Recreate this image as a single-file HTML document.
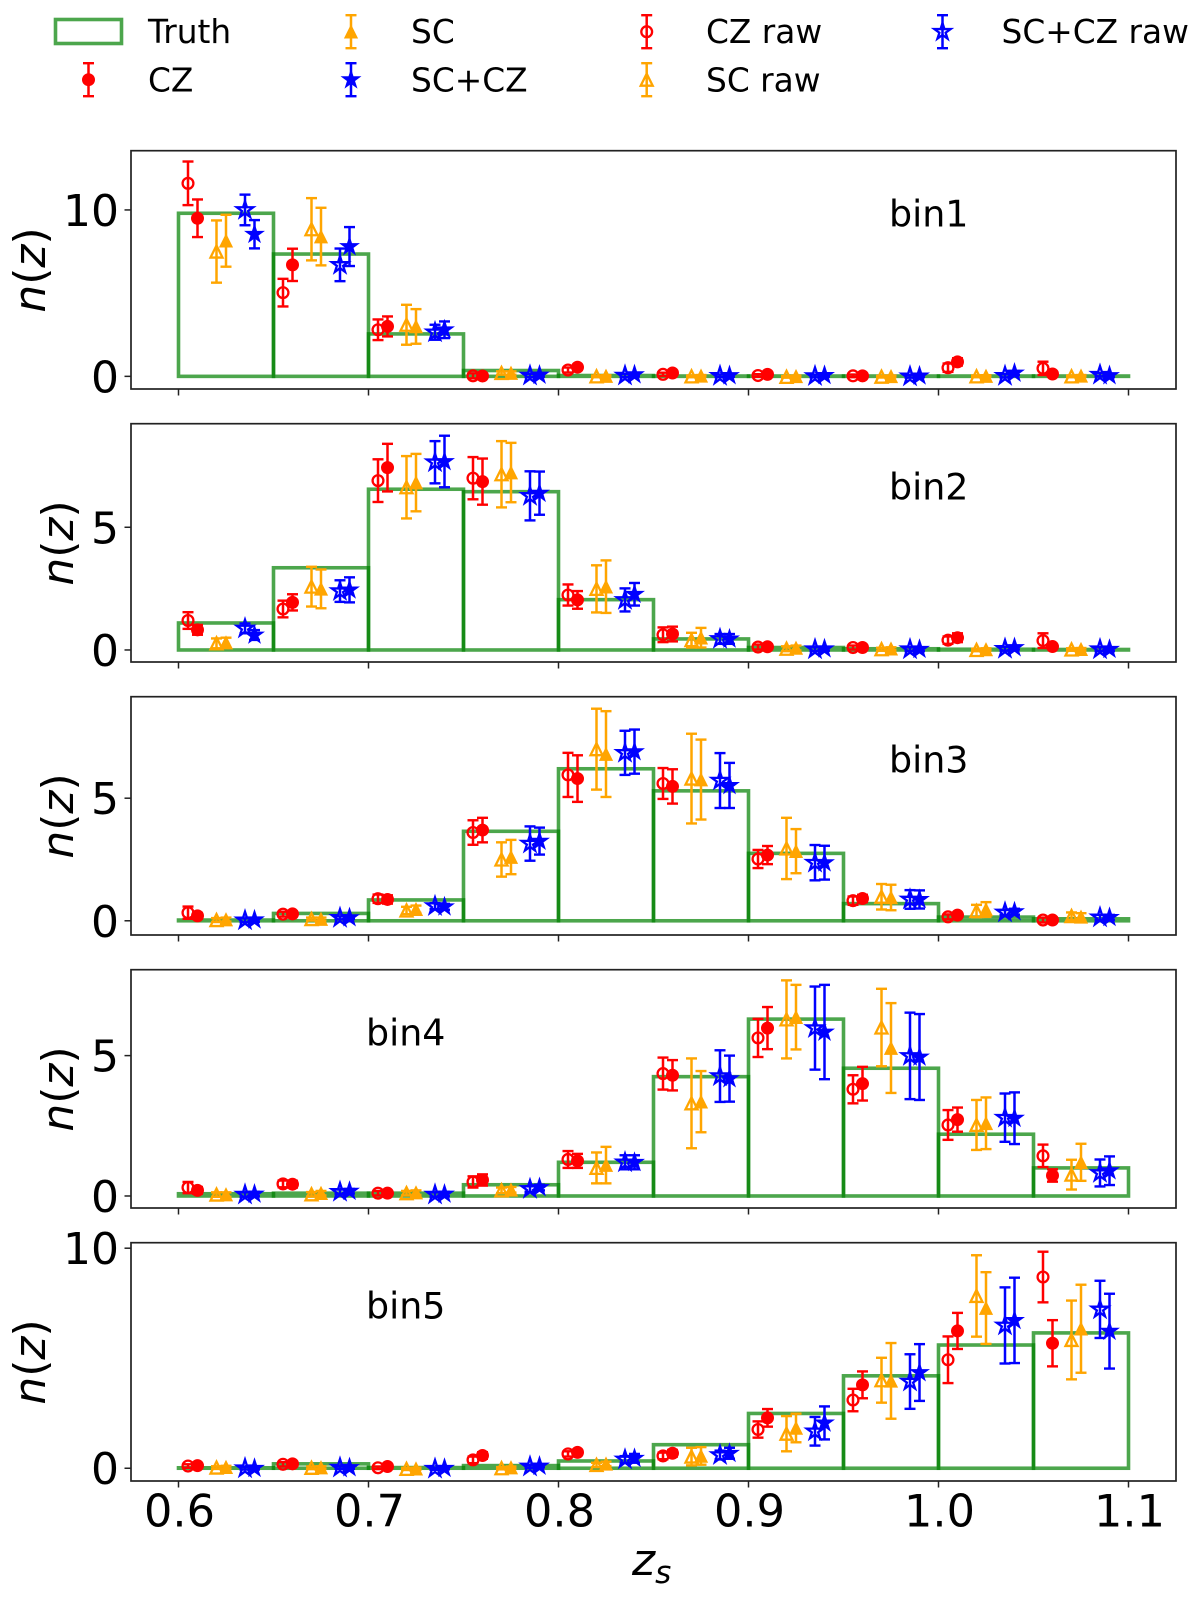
<!DOCTYPE html>
<html lang="en">
<head>
<meta charset="utf-8">
<title>n(z) per tomographic bin</title>
<style>
html,body{margin:0;padding:0;background:#fff;}
svg{display:block;font-family:"DejaVu Sans","Liberation Sans",sans-serif;fill:#000;}
</style>
</head>
<body>
<svg id="chart" xmlns="http://www.w3.org/2000/svg" width="1200" height="1598" viewBox="0 0 1200 1598">
  <rect x="0" y="0" width="1200" height="1598" fill="#fff"/>
  <g id="plots"></g>
  <g id="legend" font-size="32.8">
    <text x="148" y="43">Truth</text>
    <text x="148" y="91.5">CZ</text>
    <text x="411" y="43">SC</text>
    <text x="411" y="91.5">SC+CZ</text>
    <text x="706" y="43">CZ raw</text>
    <text x="706" y="91.5">SC raw</text>
    <text x="1001.5" y="43">SC+CZ raw</text>
  </g>
  <g font-size="36.4">
    <text x="889" y="226.7">bin1</text>
    <text x="889" y="499.7">bin2</text>
    <text x="889" y="772.7">bin3</text>
    <text x="366" y="1045.7">bin4</text>
    <text x="366" y="1318.7">bin5</text>
  </g>
  <g font-size="44" text-anchor="middle">
    <text transform="translate(45 270) rotate(-90)"><tspan font-style="italic">n</tspan>(<tspan font-style="italic">z</tspan>)</text>
    <text transform="translate(73 543) rotate(-90)"><tspan font-style="italic">n</tspan>(<tspan font-style="italic">z</tspan>)</text>
    <text transform="translate(73 816) rotate(-90)"><tspan font-style="italic">n</tspan>(<tspan font-style="italic">z</tspan>)</text>
    <text transform="translate(73 1089) rotate(-90)"><tspan font-style="italic">n</tspan>(<tspan font-style="italic">z</tspan>)</text>
    <text transform="translate(45 1362) rotate(-90)"><tspan font-style="italic">n</tspan>(<tspan font-style="italic">z</tspan>)</text>
  </g>
  <text x="632" y="1575" font-size="44" font-style="italic">z<tspan font-size="31" dy="8">s</tspan></text>
</svg>
<script>
// Histogram bin edges
const binLeft = [0.60,0.65,0.70,0.75,0.80,0.85,0.90,0.95,1.00,1.05];
const binWidth = 0.05;
// Axis tick labels
const xTicks = [0.6,0.7,0.8,0.9,1.0,1.1];
const xTickLabels = ["0.6","0.7","0.8","0.9","1.0","1.1"];
const yTicksBin1 = [0,10];
const yTicksBin2 = [0,5];
const yTicksBin3 = [0,5];
const yTicksBin4 = [0,5];
const yTicksBin5 = [0,10];
// Axis limits
const xLimits = [0.575,1.125];
const yLimBin1 = [-0.76,13.56];
const yLimBin2 = [-0.49,9.22];
const yLimBin3 = [-0.58,9.14];
const yLimBin4 = [-0.428,8.06];
const yLimBin5 = [-0.58,10.25];
// Series shift inside a histogram bin (redshift units)
const zShiftCzRaw = 0.005;
const zShiftCz = 0.01;
const zShiftScRaw = 0.02;
const zShiftSc = 0.025;
const zShiftComboRaw = 0.035;
const zShiftCombo = 0.04;

// bin 1
const truthBin1 = [9.8,7.35,2.55,0.35,0.05,0.02,0.02,0.02,0.02,0.02];
const czRawBin1 = [11.6,5.03,2.8,0.03,0.38,0.12,0.05,0.03,0.52,0.48];
const czRawErrBin1 = [1.31,0.83,0.62,0.15,0.15,0.1,0.08,0.08,0.25,0.4];
const czBin1 = [9.5,6.7,3.0,0.02,0.55,0.2,0.12,0.03,0.87,0.14];
const czErrBin1 = [1.13,0.97,0.6,0.1,0.15,0.1,0.08,0.08,0.22,0.1];
const scRawBin1 = [7.5,8.84,3.1,0.2,0,0,-0.03,-0.02,0,0];
const scRawErrBin1 = [1.87,1.87,1.2,0.1,0.05,0.05,0.05,0.05,0.05,0.05];
const scBin1 = [8.15,8.4,3.0,0.2,0.02,0.03,0,0,0.02,0.03];
const scErrBin1 = [1.56,1.73,1.04,0.1,0.05,0.05,0.05,0.05,0.05,0.05];
const comboRawBin1 = [10.0,6.7,2.65,0.05,0.05,0.03,0.02,0,0.03,0.1];
const comboRawErrBin1 = [0.92,0.98,0.45,0.1,0.1,0.08,0.08,0.08,0.1,0.1];
const comboBin1 = [8.54,7.8,2.8,0.08,0.1,0.05,0.06,0.03,0.2,0.05];
const comboErrBin1 = [0.85,1.17,0.5,0.1,0.1,0.08,0.08,0.08,0.12,0.1];

// bin 2
const truthBin2 = [1.1,3.35,6.55,6.45,2.05,0.45,0.1,0.05,0.03,0.02];
const czRawBin2 = [1.2,1.67,6.9,7.0,2.24,0.62,0.12,0.1,0.4,0.38];
const czRawErrBin2 = [0.34,0.34,0.87,0.86,0.43,0.3,0.1,0.08,0.15,0.3];
const czBin2 = [0.82,1.94,7.43,6.86,2.04,0.65,0.13,0.1,0.5,0.14];
const czErrBin2 = [0.2,0.33,0.97,0.94,0.36,0.3,0.1,0.08,0.18,0.1];
const scRawBin2 = [0.27,2.58,6.63,7.16,2.49,0.4,0.05,0.03,0,0.02];
const scRawErrBin2 = [0.2,0.81,1.27,1.35,0.96,0.3,0.1,0.06,0.05,0.05];
const scBin2 = [0.3,2.49,6.82,7.23,2.58,0.5,0.08,0.05,0.02,0.03];
const scErrBin2 = [0.2,0.79,1.17,1.21,1.07,0.4,0.1,0.06,0.05,0.05];
const comboRawBin2 = [0.88,2.4,7.65,6.28,2.04,0.45,0.03,0.03,0.05,0.03];
const comboRawErrBin2 = [0.2,0.44,0.86,1.0,0.47,0.2,0.08,0.08,0.08,0.08];
const comboBin2 = [0.61,2.45,7.68,6.39,2.27,0.45,0.05,0.03,0.1,0.03];
const comboErrBin2 = [0.2,0.51,1.05,0.88,0.46,0.2,0.08,0.08,0.08,0.08];

// bin 3
const truthBin3 = [0.03,0.3,0.85,3.65,6.2,5.3,2.75,0.7,0.15,0.08];
const czRawBin3 = [0.33,0.27,0.9,3.6,5.95,5.6,2.52,0.82,0.16,0.03];
const czRawErrBin3 = [0.25,0.1,0.17,0.5,0.9,0.63,0.37,0.17,0.1,0.1];
const czBin3 = [0.2,0.28,0.87,3.7,5.8,5.48,2.68,0.91,0.23,0.03];
const czErrBin3 = [0.12,0.1,0.17,0.5,0.95,0.7,0.37,0.15,0.1,0.1];
const scRawBin3 = [0.03,0.07,0.42,2.5,7.0,5.8,2.95,0.98,0.4,0.19];
const scRawErrBin3 = [0.08,0.06,0.15,0.7,1.65,1.83,1.25,0.52,0.25,0.15];
const scBin3 = [0.05,0.07,0.47,2.6,6.8,5.76,2.84,0.95,0.46,0.16];
const scErrBin3 = [0.08,0.06,0.15,0.7,1.75,1.63,0.9,0.52,0.3,0.15];
const comboRawBin3 = [0.02,0.12,0.6,3.15,6.85,5.72,2.37,0.87,0.34,0.14];
const comboRawErrBin3 = [0.08,0.06,0.12,0.7,0.9,1.12,0.72,0.38,0.1,0.1];
const comboBin3 = [0.04,0.13,0.57,3.25,6.9,5.52,2.37,0.87,0.37,0.14];
const comboErrBin3 = [0.08,0.06,0.12,0.55,0.9,0.92,0.69,0.37,0.12,0.1];

// bin 4
const truthBin4 = [0.08,0.1,0.1,0.4,1.2,4.25,6.3,4.55,2.2,1.0];
const czRawBin4 = [0.3,0.43,0.1,0.5,1.3,4.36,5.63,3.8,2.53,1.43];
const czRawErrBin4 = [0.2,0.12,0.08,0.2,0.3,0.57,0.68,0.5,0.53,0.4];
const czBin4 = [0.2,0.42,0.1,0.57,1.25,4.3,5.98,4.0,2.72,0.73];
const czErrBin4 = [0.12,0.12,0.08,0.2,0.25,0.54,0.75,0.6,0.43,0.22];
const scRawBin4 = [0.05,0.06,0.1,0.2,1.0,3.3,6.29,6.0,2.53,0.76];
const scRawErrBin4 = [0.08,0.08,0.08,0.1,0.55,1.6,1.39,1.38,0.89,0.53];
const scBin4 = [0.05,0.1,0.12,0.22,1.1,3.36,6.37,5.27,2.59,1.2];
const scErrBin4 = [0.08,0.08,0.08,0.1,0.65,1.09,1.15,1.6,0.92,0.66];
const comboRawBin4 = [0.05,0.15,0.05,0.25,1.2,4.27,5.98,4.99,2.79,0.82];
const comboRawErrBin4 = [0.08,0.08,0.08,0.1,0.25,0.92,1.48,1.54,0.86,0.48];
const comboBin4 = [0.07,0.17,0.07,0.3,1.2,4.18,5.84,4.95,2.77,0.9];
const comboErrBin4 = [0.08,0.08,0.08,0.1,0.25,0.82,1.68,1.53,0.92,0.51];

// bin 5
const truthBin5 = [0.02,0.2,0.03,0.12,0.33,1.07,2.49,4.2,5.6,6.15];
const czRawBin5 = [0.1,0.18,0.02,0.38,0.65,0.56,1.76,3.1,4.93,8.69];
const czRawErrBin5 = [0.08,0.1,0.06,0.15,0.12,0.15,0.37,0.51,1.06,1.15];
const czBin5 = [0.12,0.2,0.08,0.58,0.72,0.68,2.29,3.79,6.24,5.68];
const czErrBin5 = [0.08,0.1,0.06,0.15,0.12,0.15,0.4,0.61,0.82,1.05];
const scRawBin5 = [0.03,0.02,-0.03,0,0.15,0.53,1.57,4.0,7.83,5.83];
const scRawErrBin5 = [0.06,0.06,0.05,0.05,0.1,0.4,0.8,1.02,1.85,1.79];
const scBin5 = [0.05,0.03,-0.02,0.03,0.2,0.56,1.83,3.97,7.28,6.34];
const scErrBin5 = [0.06,0.06,0.05,0.05,0.1,0.4,0.65,1.72,1.63,2.0];
const comboRawBin5 = [0,0.03,-0.02,0.08,0.4,0.6,1.68,3.94,6.49,7.22];
const comboRawErrBin5 = [0.06,0.06,0.05,0.06,0.15,0.2,0.65,1.24,1.73,1.3];
const comboBin5 = [0,0.03,0,0.1,0.45,0.68,2.06,4.35,6.72,6.23];
const comboErrBin5 = [0.06,0.06,0.05,0.06,0.2,0.25,0.75,1.29,1.94,1.7];

const NS = 'http://www.w3.org/2000/svg';
const plotsRoot = document.getElementById('plots');
const legendRoot = document.getElementById('legend');

function svgEl(tag, attrs, parent){
  const el = document.createElementNS(NS, tag);
  for (const k in attrs) el.setAttribute(k, attrs[k]);
  parent.appendChild(el);
  return el;
}

function xScale(z){
  return 131 + (z - xLimits[0]) / (xLimits[1] - xLimits[0]) * 1045;
}

function makeYScale(limits, top, height){
  return function(v){
    return top + height - (v - limits[0]) / (limits[1] - limits[0]) * height;
  };
}

function starPoints(cx, cy, r){
  const pts = [];
  for (let i = 0; i < 10; i++){
    const rad = i % 2 === 0 ? r : r * 0.381966;
    const a = -Math.PI / 2 + i * Math.PI / 5;
    pts.push((cx + rad * Math.cos(a)).toFixed(2) + ',' + (cy + rad * Math.sin(a)).toFixed(2));
  }
  return pts.join(' ');
}

function drawMarker(group, kind, hollow, color, cx, cy){
  const fill = hollow ? 'none' : color;
  const sw = hollow ? 2.3 : 1;
  let m;
  if (kind === 'circle'){
    m = svgEl('circle', {cx:cx, cy:cy, r: hollow ? 5.4 : 6, fill:fill, stroke:color, 'stroke-width':sw}, group);
  } else if (kind === 'triangle'){
    const h = hollow ? 6 : 6.3;
    m = svgEl('polygon', {points:(cx)+','+(cy-h)+' '+(cx-h)+','+(cy+h)+' '+(cx+h)+','+(cy+h), fill:fill, stroke:color, 'stroke-width':sw}, group);
  } else {
    m = svgEl('polygon', {points:starPoints(cx, cy, hollow ? 8.6 : 9.4), fill:fill, stroke:color, 'stroke-width':sw}, group);
  }
  
  
}

function drawErrorBar(group, color, cx, yLow, yHigh){
  const stem = svgEl('line', {x1:cx, x2:cx, y1:yLow, y2:yHigh, stroke:color, 'stroke-width':2.5}, group);
  
  
  const capLow = svgEl('line', {x1:cx-5.5, x2:cx+5.5, y1:yLow, y2:yLow, stroke:color, 'stroke-width':2.4}, group);
  
  
  const capHigh = svgEl('line', {x1:cx-5.5, x2:cx+5.5, y1:yHigh, y2:yHigh, stroke:color, 'stroke-width':2.4}, group);
  
  
}

function drawSeries(parent, name, values, errors, shift, kind, hollow, color, yScale){
  const g = svgEl('g', {}, parent);
  
  
  values.forEach(function(v, i){
    const p = svgEl('g', {}, g);
    
    
    const cx = xScale(binLeft[i] + shift);
    drawErrorBar(p, color, cx, yScale(v - errors[i]), yScale(v + errors[i]));
    drawMarker(p, kind, hollow, color, cx, yScale(v));
  });
}

function drawPanel(index, top, limits, yTicks, truth, series, showXLabels){
  const height = 238.3;
  const yScale = makeYScale(limits, top, height);
  const panel = svgEl('g', {}, plotsRoot);
  
  

  const hist = svgEl('g', {}, panel);
  
  
  truth.forEach(function(v, i){
    const x0 = xScale(binLeft[i]);
    const x1 = xScale(binLeft[i] + binWidth);
    const y0 = yScale(0);
    const y1 = yScale(v);
    const bar = svgEl('rect', {x:x0, y:Math.min(y0,y1), width:x1-x0, height:Math.abs(y0-y1), fill:'none', stroke:'#008000', 'stroke-width':3.6, 'stroke-opacity':0.7}, hist);
    
    
  });

  series.forEach(function(s){
    drawSeries(panel, s.name, s.values, s.errors, s.shift, s.kind, s.hollow, s.color, yScale);
  });

  const frame = svgEl('rect', {x:131, y:top, width:1045, height:height, fill:'none', stroke:'#222', 'stroke-width':1.7}, panel);
  
  

  xTicks.forEach(function(t, i){
    const x = xScale(t);
    const tick = svgEl('line', {x1:x, x2:x, y1:top+height, y2:top+height+6.5, stroke:'#222', 'stroke-width':1.5}, panel);
    
    
    if (showXLabels){
      const label = svgEl('text', {x:x+1, y:1526.7, 'font-size':44.6, 'text-anchor':'middle'}, panel);
      
      
      label.textContent = xTickLabels[i];
    }
  });
  yTicks.forEach(function(t){
    const y = yScale(t);
    const tick = svgEl('line', {x1:124.5, x2:131, y1:y, y2:y, stroke:'#222', 'stroke-width':1.5}, panel);
    
    
    const label = svgEl('text', {x:119, y:y+16, 'font-size':44, 'text-anchor':'end'}, panel);
    
    
    label.textContent = String(t);
  });
}

function buildSeries(cr, cre, c, ce, sr, sre, s, se, xr, xre, x, xe){
  return [
    {name:'cz-raw', values:cr, errors:cre, shift:zShiftCzRaw, kind:'circle', hollow:true, color:'#ff0000'},
    {name:'sc-raw', values:sr, errors:sre, shift:zShiftScRaw, kind:'triangle', hollow:true, color:'#ffa500'},
    {name:'sc-cz-raw', values:xr, errors:xre, shift:zShiftComboRaw, kind:'star', hollow:true, color:'#0000ff'},
    {name:'cz', values:c, errors:ce, shift:zShiftCz, kind:'circle', hollow:false, color:'#ff0000'},
    {name:'sc', values:s, errors:se, shift:zShiftSc, kind:'triangle', hollow:false, color:'#ffa500'},
    {name:'sc-cz', values:x, errors:xe, shift:zShiftCombo, kind:'star', hollow:false, color:'#0000ff'}
  ];
}

drawPanel(1, 150.7, yLimBin1, yTicksBin1, truthBin1, buildSeries(czRawBin1,czRawErrBin1,czBin1,czErrBin1,scRawBin1,scRawErrBin1,scBin1,scErrBin1,comboRawBin1,comboRawErrBin1,comboBin1,comboErrBin1), false);
drawPanel(2, 423.7, yLimBin2, yTicksBin2, truthBin2, buildSeries(czRawBin2,czRawErrBin2,czBin2,czErrBin2,scRawBin2,scRawErrBin2,scBin2,scErrBin2,comboRawBin2,comboRawErrBin2,comboBin2,comboErrBin2), false);
drawPanel(3, 696.7, yLimBin3, yTicksBin3, truthBin3, buildSeries(czRawBin3,czRawErrBin3,czBin3,czErrBin3,scRawBin3,scRawErrBin3,scBin3,scErrBin3,comboRawBin3,comboRawErrBin3,comboBin3,comboErrBin3), false);
drawPanel(4, 969.7, yLimBin4, yTicksBin4, truthBin4, buildSeries(czRawBin4,czRawErrBin4,czBin4,czErrBin4,scRawBin4,scRawErrBin4,scBin4,scErrBin4,comboRawBin4,comboRawErrBin4,comboBin4,comboErrBin4), false);
drawPanel(5, 1242.7, yLimBin5, yTicksBin5, truthBin5, buildSeries(czRawBin5,czRawErrBin5,czBin5,czErrBin5,scRawBin5,scRawErrBin5,scBin5,scErrBin5,comboRawBin5,comboRawErrBin5,comboBin5,comboErrBin5), true);

// Legend handles
const legendTruth = svgEl('rect', {x:55.5, y:19.5, width:66, height:24, fill:'none', stroke:'#008000', 'stroke-width':3.6, 'stroke-opacity':0.7}, legendRoot);



function legendHandle(name, cx, cy, kind, hollow, color){
  const g = svgEl('g', {}, legendRoot);
  
  
  drawErrorBar(g, color, cx, cy + 16.5, cy - 16.5);
  drawMarker(g, kind, hollow, color, cx, cy);
}
legendHandle('cz', 88.5, 79.7, 'circle', false, '#ff0000');
legendHandle('sc', 351, 31.7, 'triangle', false, '#ffa500');
legendHandle('sc-cz', 351, 79.7, 'star', false, '#0000ff');
legendHandle('cz-raw', 646.7, 31.7, 'circle', true, '#ff0000');
legendHandle('sc-raw', 646.7, 79.7, 'triangle', true, '#ffa500');
legendHandle('sc-cz-raw', 942.5, 31.7, 'star', true, '#0000ff');
</script>
</body>
</html>
